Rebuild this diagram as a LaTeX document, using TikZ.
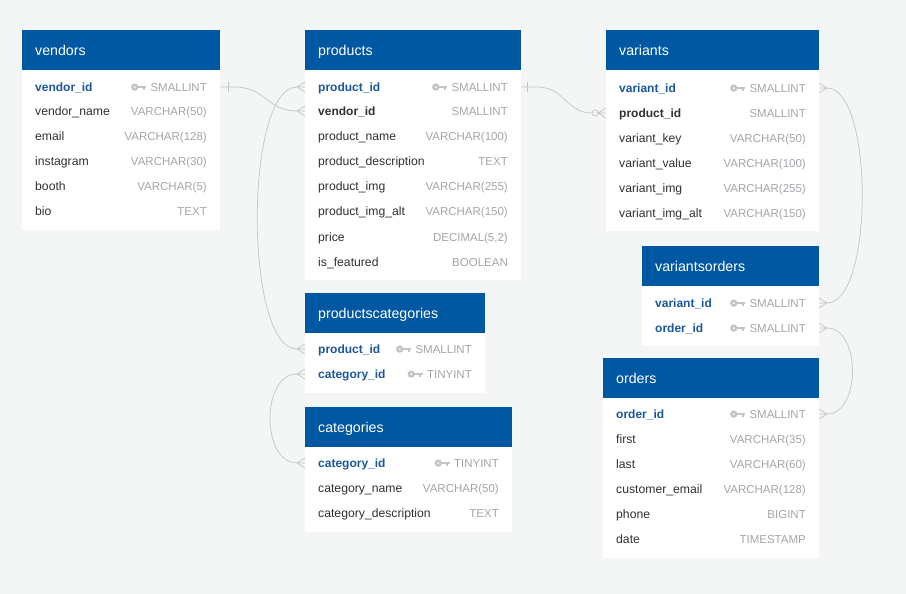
\documentclass[tikz,border=0pt]{standalone}
\usepackage{fontspec}
\setmainfont{Liberation Sans}
\usetikzlibrary{calc}
\definecolor{bgc}{HTML}{F4F5F5}
\definecolor{hdrblue}{HTML}{0058A3}
\definecolor{pkblue}{HTML}{1A579C}
\definecolor{darktxt}{HTML}{2E3135}
\definecolor{typegray}{HTML}{A2A6AA}
\definecolor{keygray}{HTML}{C2C5C8}
\definecolor{linkgray}{HTML}{C3C5C7}
\tikzset{
  hdr/.style={fill=hdrblue, text=white, anchor=north west, inner xsep=13pt, inner ysep=0pt,
    minimum height=40pt, text height=10.5pt, text depth=0.5pt, align=left,
    font=\fontsize{14.2}{16}\selectfont},
  tbody/.style={fill=white, anchor=north west, inner sep=0pt},
  fld/.style={text=darktxt, inner sep=0pt, anchor=base west, font=\fontsize{12.2}{14}\selectfont},
  pk/.style={text=pkblue, inner sep=0pt, anchor=base west, font=\fontsize{12}{14}\selectfont\bfseries},
  fk/.style={text=darktxt, inner sep=0pt, anchor=base west, font=\fontsize{12}{14}\selectfont\bfseries},
  typ/.style={text=typegray, inner sep=0pt, anchor=base east, font=\fontsize{11.5}{14}\selectfont},
  link/.style={draw=linkgray, line width=0.7pt},
  keyicon/.pic={
    \fill[keygray, even odd rule] (-11.6,-4.2) circle (3.7) (-11.6,-4.2) circle (1.2);
    \fill[keygray] (-8.6,-5.4) rectangle (0,-3.0);
    \fill[keygray] (-3.6,-3.2) rectangle (-1.6,-1.3);
  }
}
% #1 name, #2 left, #3 right, #4 header top, #5 body bottom, #6 title
\newcommand{\ertable}[6]{%
  \node[hdr, minimum width={#3-#2}, text width={#3-#2-26}] (#1) at (#2,#4) {#6};
  \node[tbody, minimum width={#3-#2}, minimum height={#5-#4-40}] (#1-body) at (#2,#4+40) {};
}
% #1 name, #2 left, #3 right, #4 row y, #5 style, #6 field, #7 type
\newcommand{\errow}[7]{%
  \node[#5] (#1) at (#2+13,#4+4.3) {#6};
  \node[typ] (#1-t) at (#3-13,#4+4.3) {#7};
  \coordinate (#1-w) at (#2,#4);
  \coordinate (#1-e) at (#3,#4);
}
\newcommand{\erkey}[1]{\pic at ([xshift=-4pt]#1-t.base west) {keyicon};}
\newcommand{\crowL}[1]{\draw[link] ([xshift=-8pt]#1) -- ([yshift=-5pt]#1) ([xshift=-8pt]#1) -- ([yshift=5pt]#1) ([xshift=-8pt]#1) -- (#1);}
\newcommand{\crowR}[1]{\draw[link] ([xshift=8pt]#1) -- ([yshift=-5pt]#1) ([xshift=8pt]#1) -- ([yshift=5pt]#1) ([xshift=8pt]#1) -- (#1);}
\begin{document}
\begin{tikzpicture}[x=1pt,y=-1pt]
\useasboundingbox (0,0) rectangle (906,594);
\fill[bgc] (0,0) rectangle (906,594);

% vendors
\ertable{vendors}{22}{220}{30}{230}{vendors}
\errow{vendors-vendor_id}{22}{220}{87}{pk}{vendor\_id}{SMALLINT}
\errow{vendors-vendor_name}{22}{220}{111}{fld}{vendor\_name}{VARCHAR(50)}
\errow{vendors-email}{22}{220}{136}{fld}{email}{VARCHAR(128)}
\errow{vendors-instagram}{22}{220}{161}{fld}{instagram}{VARCHAR(30)}
\errow{vendors-booth}{22}{220}{186}{fld}{booth}{VARCHAR(5)}
\errow{vendors-bio}{22}{220}{211}{fld}{bio}{TEXT}
\erkey{vendors-vendor_id}

% products
\ertable{products}{305}{521}{30}{280}{products}
\errow{products-product_id}{305}{521}{87}{pk}{product\_id}{SMALLINT}
\errow{products-vendor_id}{305}{521}{111}{fk}{vendor\_id}{SMALLINT}
\errow{products-product_name}{305}{521}{136}{fld}{product\_name}{VARCHAR(100)}
\errow{products-product_description}{305}{521}{161}{fld}{product\_description}{TEXT}
\errow{products-product_img}{305}{521}{186}{fld}{product\_img}{VARCHAR(255)}
\errow{products-product_img_alt}{305}{521}{211}{fld}{product\_img\_alt}{VARCHAR(150)}
\errow{products-price}{305}{521}{237}{fld}{price}{DECIMAL(5,2)}
\errow{products-is_featured}{305}{521}{262}{fld}{is\_featured}{BOOLEAN}
\erkey{products-product_id}

% variants
\ertable{variants}{606}{819}{30}{231}{variants}
\errow{variants-variant_id}{606}{819}{88}{pk}{variant\_id}{SMALLINT}
\errow{variants-product_id}{606}{819}{113}{fk}{product\_id}{SMALLINT}
\errow{variants-variant_key}{606}{819}{138}{fld}{variant\_key}{VARCHAR(50)}
\errow{variants-variant_value}{606}{819}{163}{fld}{variant\_value}{VARCHAR(100)}
\errow{variants-variant_img}{606}{819}{188}{fld}{variant\_img}{VARCHAR(255)}
\errow{variants-variant_img_alt}{606}{819}{213}{fld}{variant\_img\_alt}{VARCHAR(150)}
\erkey{variants-variant_id}

% variantsorders
\ertable{variantsorders}{642}{819}{246}{346}{variantsorders}
\errow{variantsorders-variant_id}{642}{819}{303}{pk}{variant\_id}{SMALLINT}
\errow{variantsorders-order_id}{642}{819}{328}{pk}{order\_id}{SMALLINT}
\erkey{variantsorders-variant_id}
\erkey{variantsorders-order_id}

% orders
\ertable{orders}{603}{819}{358}{558}{orders}
\errow{orders-order_id}{603}{819}{414}{pk}{order\_id}{SMALLINT}
\errow{orders-first}{603}{819}{439}{fld}{first}{VARCHAR(35)}
\errow{orders-last}{603}{819}{464}{fld}{last}{VARCHAR(60)}
\errow{orders-customer_email}{603}{819}{489}{fld}{customer\_email}{VARCHAR(128)}
\errow{orders-phone}{603}{819}{514}{fld}{phone}{BIGINT}
\errow{orders-date}{603}{819}{539}{fld}{date}{TIMESTAMP}
\erkey{orders-order_id}

% productscategories
\ertable{productscategories}{305}{485}{293}{393}{productscategories}
\errow{productscategories-product_id}{305}{485}{349}{pk}{product\_id}{SMALLINT}
\errow{productscategories-category_id}{305}{485}{374}{pk}{category\_id}{TINYINT}
\erkey{productscategories-product_id}
\erkey{productscategories-category_id}

% categories
\ertable{categories}{305}{512}{407}{532}{categories}
\errow{categories-category_id}{305}{512}{463}{pk}{category\_id}{TINYINT}
\errow{categories-category_name}{305}{512}{488}{fld}{category\_name}{VARCHAR(50)}
\errow{categories-category_description}{305}{512}{513}{fld}{category\_description}{TEXT}
\erkey{categories-category_id}

% ---- connectors ----
% vendors.vendor_id -> products.vendor_id
\draw[link] (vendors-vendor_id-e) -- ([xshift=14pt]vendors-vendor_id-e)
  .. controls +(32,0) and +(-30,0) .. ([xshift=-8pt]products-vendor_id-w);
\draw[link] ([xshift=8pt,yshift=-5pt]vendors-vendor_id-e) -- ([xshift=8pt,yshift=5pt]vendors-vendor_id-e);
\crowL{products-vendor_id-w}

% products.product_id -> productscategories.product_id
\draw[link] ([xshift=-8pt]products-product_id-w)
  .. controls +(-53,0) and +(-53,0) .. ([xshift=-8pt]productscategories-product_id-w);
\crowL{products-product_id-w}
\crowL{productscategories-product_id-w}

% products.product_id -> variants.product_id
\draw[link] (products-product_id-e) -- ([xshift=16pt]products-product_id-e)
  .. controls +(28,0) and +(-26,0) .. ([xshift=-14pt]variants-product_id-w);
\draw[link] ([xshift=6pt,yshift=-5pt]products-product_id-e) -- ([xshift=6pt,yshift=5pt]products-product_id-e);
\draw[link] ([xshift=-11pt]variants-product_id-w) circle (3pt);
\crowL{variants-product_id-w}

% variants.variant_id -> variantsorders.variant_id
\draw[link] ([xshift=8pt]variants-variant_id-e)
  .. controls +(47,0) and +(47,0) .. ([xshift=8pt]variantsorders-variant_id-e);
\crowR{variants-variant_id-e}
\crowR{variantsorders-variant_id-e}

% variantsorders.order_id -> orders.order_id
\draw[link] ([xshift=8pt]variantsorders-order_id-e)
  .. controls +(34,0) and +(34,0) .. ([xshift=8pt]orders-order_id-e);
\crowR{variantsorders-order_id-e}
\crowR{orders-order_id-e}

% productscategories.category_id -> categories.category_id
\draw[link] ([xshift=-8pt]productscategories-category_id-w)
  .. controls +(-36,0) and +(-36,0) .. ([xshift=-8pt]categories-category_id-w);
\crowL{productscategories-category_id-w}
\crowL{categories-category_id-w}
\end{tikzpicture}
\end{document}
